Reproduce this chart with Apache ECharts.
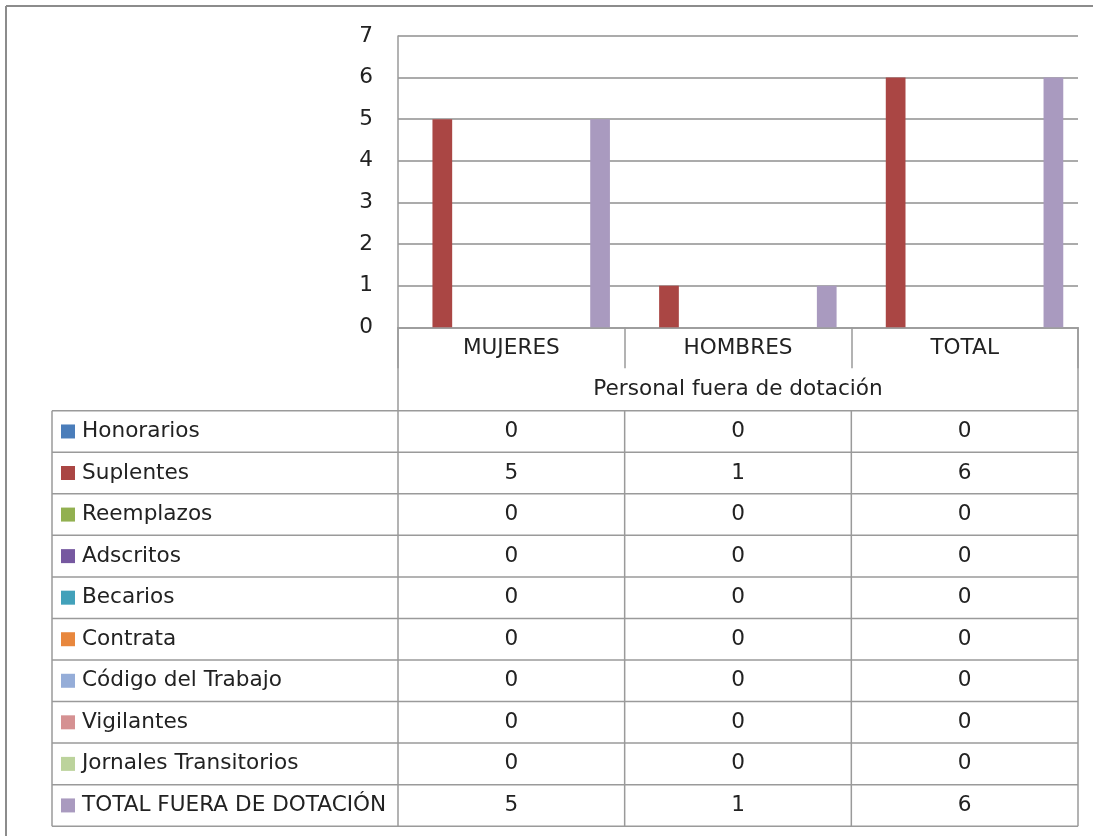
<!DOCTYPE html>
<html>
<head>
<meta charset="utf-8">
<script src="https://cdn.jsdelivr.net/npm/echarts@6/dist/echarts.min.js"></script>
<style>
html,body{margin:0;padding:0;background:#fff;}
#c{width:1093px;height:836px;}
</style>
</head>
<body>
<div id="c"></div>
<script>
const categories = ['MUJERES', 'HOMBRES', 'TOTAL'];
const axisTitle = 'Personal fuera de dotación';
const yTicks = [0, 1, 2, 3, 4, 5, 6, 7];

const honorarios = [0, 0, 0];
const suplentes = [5, 1, 6];
const reemplazos = [0, 0, 0];
const adscritos = [0, 0, 0];
const becarios = [0, 0, 0];
const contrata = [0, 0, 0];
const codigoTrabajo = [0, 0, 0];
const vigilantes = [0, 0, 0];
const jornales = [0, 0, 0];
const totalFuera = [5, 1, 6];

const seriesNames = ['Honorarios', 'Suplentes', 'Reemplazos', 'Adscritos', 'Becarios',
  'Contrata', 'Código del Trabajo', 'Vigilantes', 'Jornales Transitorios', 'TOTAL FUERA DE DOTACIÓN'];
const seriesValues = [honorarios, suplentes, reemplazos, adscritos, becarios,
  contrata, codigoTrabajo, vigilantes, jornales, totalFuera];
const seriesColors = ['#4A7DBA', '#AA4644', '#92B050', '#7658A0', '#42A1BA',
  '#E8873D', '#95ADD8', '#D59192', '#BCD39C', '#A99ABF'];

const FONT = 'DejaVu Sans';
const FS = 21.6;
const TXT = '#222222';
const LINE = '#9a9a9a';

const chart = echarts.init(document.getElementById('c'));

const baseOption = {
  animation: false,
  backgroundColor: '#fff',
  textStyle: { fontFamily: FONT },
  grid: { left: 398, right: 15, top: 36, bottom: 836 - 327.3, containLabel: false },
  xAxis: {
    type: 'category',
    data: categories,
    name: axisTitle,
    nameLocation: 'middle',
    nameGap: 50,
    nameTextStyle: { fontFamily: FONT, fontSize: FS, color: TXT, lineHeight: 24 },
    axisLine: { show: true, lineStyle: { color: LINE, width: 1.5 } },
    axisTick: { show: true, length: 41, inside: false, lineStyle: { color: LINE, width: 1.5 } },
    axisLabel: { fontFamily: FONT, fontSize: FS, color: TXT, margin: 9, lineHeight: 24 },
    splitLine: { show: false }
  },
  yAxis: {
    type: 'value',
    min: yTicks[0],
    max: yTicks[yTicks.length - 1],
    interval: 1,
    axisLine: { show: true, lineStyle: { color: LINE, width: 1.5 } },
    axisTick: { show: false },
    axisLabel: { fontFamily: FONT, fontSize: FS, color: TXT, margin: 25 },
    splitLine: { show: true, lineStyle: { color: '#8f8f8f', width: 1.5 } }
  },
  series: seriesNames.map((n, i) => ({
    name: n,
    type: 'bar',
    data: seriesValues[i],
    barGap: '0%',
    barCategoryGap: '13%',
    itemStyle: { color: seriesColors[i] }
  }))
};

chart.setOption(baseOption);

// Build the data table from the same arrays, positioned through the chart's scales
const centers = categories.map((c, i) => chart.convertToPixel({ xAxisIndex: 0 }, i));
const band = centers[1] - centers[0];
const plotLeft = centers[0] - band / 2;
const plotRight = centers[centers.length - 1] + band / 2;
const zeroY = chart.convertToPixel({ yAxisIndex: 0 }, 0);
const tableLeft = 52;
const tableTop = 410.7;
const rowH = 41.55;
const nRows = seriesNames.length;
const tableBottom = tableTop + rowH * nRows;

const g = [];
const lineStyle = { stroke: LINE, lineWidth: 1.5 };
// outer frame (top and left edges visible)
g.push({ type: 'line', shape: { x1: 6, y1: 6, x2: 1093, y2: 6 }, style: { stroke: '#8c8c8c', lineWidth: 2 } });
g.push({ type: 'line', shape: { x1: 6, y1: 6, x2: 6, y2: 836 }, style: { stroke: '#8c8c8c', lineWidth: 2 } });
// header box verticals
g.push({ type: 'line', shape: { x1: plotLeft, y1: zeroY, x2: plotLeft, y2: tableTop }, style: lineStyle });
g.push({ type: 'line', shape: { x1: plotRight, y1: zeroY, x2: plotRight, y2: tableTop }, style: lineStyle });
// horizontal row lines
for (let r = 0; r <= nRows; r++) {
  const y = tableTop + r * rowH;
  g.push({ type: 'line', shape: { x1: tableLeft, y1: y, x2: plotRight, y2: y }, style: lineStyle });
}
// vertical lines
const vx = [tableLeft, plotLeft].concat(centers.map(c => c + band / 2));
vx.forEach(x => g.push({ type: 'line', shape: { x1: x, y1: tableTop, x2: x, y2: tableBottom }, style: lineStyle }));
// rows
seriesNames.forEach((n, r) => {
  const cy = tableTop + r * rowH + rowH / 2;
  g.push({ type: 'rect', shape: { x: 61, y: cy - 7, width: 14, height: 14 }, style: { fill: seriesColors[r] } });
  g.push({ type: 'text', x: 82, y: cy, style: { text: n, font: FS + 'px "' + FONT + '"', fill: TXT, textAlign: 'left', textVerticalAlign: 'middle' } });
  seriesValues[r].forEach((v, ci) => {
    g.push({ type: 'text', x: centers[ci], y: cy, style: { text: String(v), font: FS + 'px "' + FONT + '"', fill: TXT, textAlign: 'center', textVerticalAlign: 'middle' } });
  });
});

chart.setOption({ graphic: { elements: g } });
</script>
</body>
</html>
